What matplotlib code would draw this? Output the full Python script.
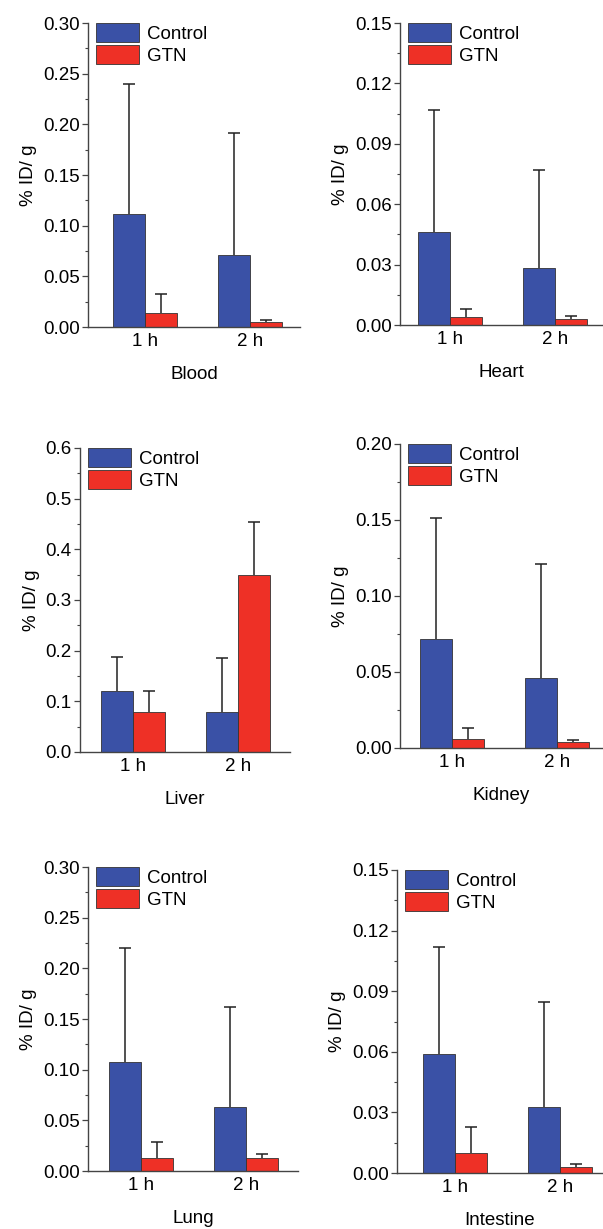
import matplotlib.pyplot as plt
import numpy as np
from matplotlib.ticker import MultipleLocator, FormatStrFormatter

plt.rcParams['font.family'] = ['Liberation Sans', 'DejaVu Sans']

# données
temps = ['1 h', '2 h']
organes = ['Blood', 'Heart', 'Liver', 'Kidney', 'Lung', 'Intestine']

control = [[0.112, 0.071], [0.046, 0.0285], [0.120, 0.079],
           [0.0717, 0.0462], [0.108, 0.0634], [0.0589, 0.0325]]
control_err = [[0.128, 0.120], [0.061, 0.0485], [0.067, 0.106],
               [0.0795, 0.0747], [0.112, 0.0986], [0.0532, 0.0521]]
gtn = [[0.0135, 0.0052], [0.0038, 0.0028], [0.079, 0.349],
       [0.0062, 0.0040], [0.0131, 0.0125], [0.0099, 0.0030]]
gtn_err = [[0.0188, 0.0018], [0.0040, 0.0016], [0.041, 0.105],
           [0.0070, 0.0015], [0.0152, 0.0039], [0.0129, 0.0015]]

ymax = [0.30, 0.15, 0.6, 0.20, 0.30, 0.15]
ystep = [0.05, 0.03, 0.1, 0.05, 0.05, 0.03]
yfmt = ['%.2f', '%.2f', '%.1f', '%.2f', '%.2f', '%.2f']

# position des axes en pixels : gauche, haut, bas, droite, centre du groupe 1
cadres = [(88, 23, 327, 300, 145), (400, 23, 325, 602, 450),
          (80, 448, 752, 290, 133), (400, 444, 748, 602, 452),
          (88, 867, 1171, 298, 141), (397, 870, 1173, 602, 455)]

W, H = 603, 1229
bleu = '#3A51A6'
rouge = '#EE3026'
larg = 0.305
px_unite = 105.0
fs = 13.5


def barre_erreur(ax, xs, vals, errs):
    vals = np.array(vals)
    errs = np.array(errs)
    ax.vlines(xs, vals, vals + errs, color='#222222', linewidth=1.1,
              zorder=1)
    ax.plot(xs, vals + errs, linestyle='none', marker='_', markersize=8,
            markeredgewidth=1.1, color='#222222', zorder=1)


fig = plt.figure(figsize=(W / 100, H / 100), dpi=100)

for k in range(6):
    g, h, b, d, c1 = cadres[k]
    ax = fig.add_axes([g / W, 1 - b / H, (d - g) / W, (b - h) / H])
    x = np.arange(1, 3)

    barre_erreur(ax, x - larg / 2, control[k], control_err[k])
    barre_erreur(ax, x + larg / 2, gtn[k], gtn_err[k])
    ax.bar(x - larg / 2, control[k], width=larg, color=bleu,
           edgecolor='#333333', linewidth=0.6, label='Control', zorder=2)
    ax.bar(x + larg / 2, gtn[k], width=larg, color=rouge,
           edgecolor='#333333', linewidth=0.6, label='GTN', zorder=2)

    ax.set_xlim(1 - (c1 - g) / px_unite, 1 + (d - c1) / px_unite)
    ax.set_ylim(0, ymax[k])
    ax.yaxis.set_major_locator(MultipleLocator(ystep[k]))
    ax.yaxis.set_minor_locator(MultipleLocator(ystep[k] / 2))
    ax.yaxis.set_major_formatter(FormatStrFormatter(yfmt[k]))
    ax.set_xticks(x)
    ax.set_xticklabels(temps)

    for s in ['top', 'right']:
        ax.spines[s].set_visible(False)
    for s in ['left', 'bottom']:
        ax.spines[s].set_color('#444444')
        ax.spines[s].set_linewidth(1.0)
        ax.spines[s].set_zorder(3)

    ax.tick_params(axis='y', which='major', direction='out', length=4,
                   width=0.9, color='#444444', labelsize=fs, pad=2)
    ax.tick_params(axis='y', which='minor', direction='out', length=2.5,
                   width=0.8, color='#444444')
    ax.tick_params(axis='x', length=0, labelsize=fs, pad=4)

    ax.set_ylabel('% ID/ g', fontsize=fs, labelpad=4)
    ax.set_xlabel(organes[k], fontsize=fs, labelpad=12)

    ax.legend(loc='upper left', bbox_to_anchor=(8 / (d - g), 1.0),
              frameon=False, fontsize=fs, borderpad=0, borderaxespad=0,
              handlelength=2.3, handleheight=1.15, labelspacing=0.15,
              handletextpad=0.4)

plt.savefig('out.png', dpi=100)
plt.close()
